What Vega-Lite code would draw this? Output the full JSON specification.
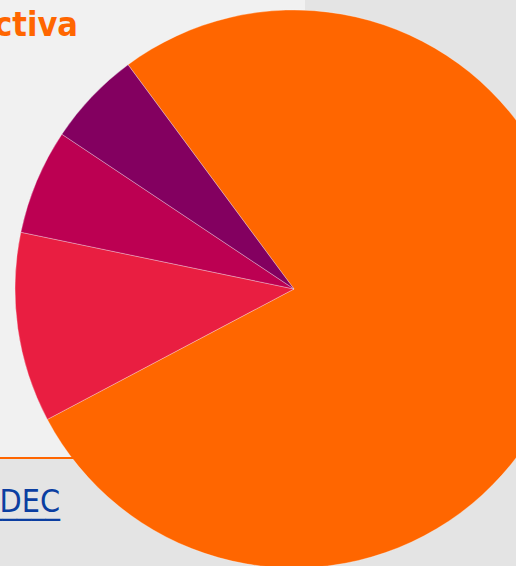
{
  "$schema": "https://vega.github.io/schema/vega-lite/v6.json",
  "autosize": {"type": "none"},
  "padding": {"left": 0, "top": 0, "right": 516, "bottom": 566},
  "background": "#e4e4e4",
  "spacing": 0,
  "bounds": "flush",
  "config": {"view": {"stroke": null}},
  "title": {
    "text": "Población económicamente activa",
    "orient": "top",
    "anchor": "start",
    "frame": "group",
    "align": "right",
    "dx": 78,
    "offset": -43,
    "font": "DejaVu Sans Condensed, DejaVu Sans, sans-serif",
    "fontSize": 34,
    "fontWeight": "bold",
    "color": "#ff6600"
  },
  "vconcat": [
    {
      "width": 305,
      "height": 121,
      "view": {"fill": "#f1f1f1"},
      "data": {"values": []},
      "mark": "rect"
    },
    {
      "width": 588,
      "height": 336,
      "view": {"fill": "#f1f1f1"},
      "data": {
        "values": [
          {"categoria": "Ocupados", "porcentaje": 77.4},
          {"categoria": "Subocupados", "porcentaje": 11.0},
          {"categoria": "Desocupados", "porcentaje": 6.1},
          {"categoria": "Otros", "porcentaje": 5.5}
        ]
      },
      "mark": {
        "type": "arc",
        "outerRadius": 279,
        "stroke": "#ffffff",
        "strokeWidth": 0.5,
        "strokeOpacity": 0.6
      },
      "encoding": {
        "theta": {
          "field": "porcentaje",
          "type": "quantitative",
          "stack": true,
          "scale": {"range": [-0.637, 5.646]}
        },
        "order": {"field": "porcentaje", "sort": "descending"},
        "color": {
          "field": "categoria",
          "type": "nominal",
          "legend": null,
          "scale": {
            "domain": ["Ocupados", "Subocupados", "Desocupados", "Otros"],
            "range": ["#ff6600", "#e91e41", "#bc0052", "#830060"]
          }
        }
      }
    },
    {
      "width": 150,
      "height": 2,
      "view": {"fill": "#ff6600"},
      "data": {"values": []},
      "mark": "rect",
      "title": {
        "text": ["Fuente: INDEC", "____________"],
        "orient": "bottom",
        "anchor": "start",
        "frame": "group",
        "align": "right",
        "dx": 60,
        "offset": 28,
        "lineHeight": 1,
        "font": "DejaVu Sans Condensed, DejaVu Sans, sans-serif",
        "fontSize": 32,
        "fontWeight": "normal",
        "color": "#0b3ea1"
      }
    }
  ]
}
